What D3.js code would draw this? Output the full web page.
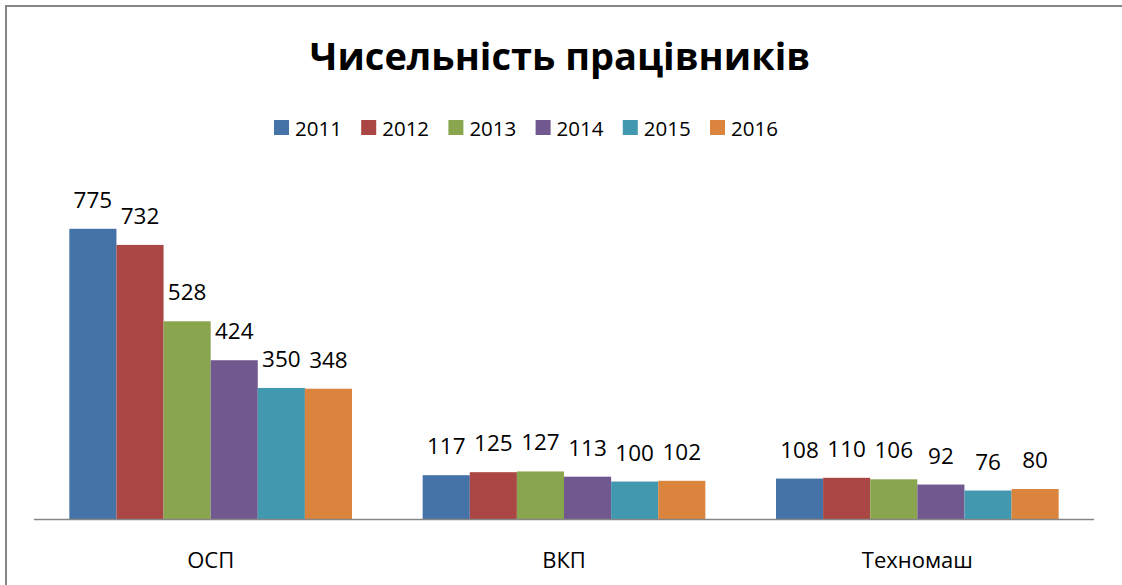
<!DOCTYPE html>
<html>
<head>
<meta charset="utf-8">
<script src="https://cdnjs.cloudflare.com/ajax/libs/d3/7.8.5/d3.min.js"></script>
<style>
  body { margin: 0; background: #fff; }
  svg { display: block; font-family: "Open Sans", "Noto Sans", sans-serif; }
</style>
</head>
<body>
<div id="chart"></div>
<script>
var categories = ["ОСП", "ВКП", "Техномаш"];
var years = ["2011", "2012", "2013", "2014", "2015", "2016"];
var values = [
  [775, 732, 528, 424, 350, 348],
  [117, 125, 127, 113, 100, 102],
  [108, 110, 106, 92, 76, 80]
];
var colors = ["#4572A7", "#AA4643", "#89A54E", "#71588F", "#4198AF", "#DB843D"];

var W = 1122, H = 585;
var margin = { top: 182, right: 28, bottom: 66, left: 34 },
  width = W - margin.left - margin.right,
  height = H - margin.top - margin.bottom;

var svg = d3.select("#chart")
  .append("svg")
  .attr("width", W)
  .attr("height", H);

// chart frame
svg.append("rect")
  .attr("x", 6).attr("y", 6)
  .attr("width", W + 10).attr("height", H + 10)
  .attr("fill", "none")
  .attr("stroke", "#868686")
  .attr("stroke-width", 2);

svg.append("text")
  .attr("x", 560)
  .attr("y", 70)
  .attr("text-anchor", "middle")
  .style("font-size", "38px")
  .style("font-weight", "bold")
  .text("Чисельність працівників");

// legend
var legend = svg.append("g").attr("transform", "translate(274,120)");
var item = legend.selectAll("g").data(years).enter().append("g")
  .attr("transform", function (d, i) { return "translate(" + (i * 87.2) + ",0)"; });
item.append("rect")
  .attr("width", 15).attr("height", 15)
  .attr("fill", function (d, i) { return colors[i]; });
item.append("text")
  .attr("x", 21).attr("y", 16)
  .style("font-size", "20.5px")
  .text(function (d) { return d; });

var g = svg.append("g")
  .attr("transform", "translate(" + margin.left + "," + margin.top + ")");

var x0 = d3.scaleBand()
  .domain(categories)
  .range([0, width]);

var x1 = d3.scaleBand()
  .domain(years)
  .range([0, x0.bandwidth() * 0.8])
  .padding(0);

var y = d3.scaleLinear()
  .domain([0, 900])
  .range([height, 0]);

var groups = g.selectAll(".grp")
  .data(categories)
  .enter()
  .append("g")
  .attr("class", "grp")
  .attr("transform", function (d) {
    return "translate(" + (x0(d) + x0.bandwidth() * 0.1) + ",0)";
  });

groups.selectAll("rect")
  .data(function (d, i) { return values[i].map(function (v, j) { return { year: years[j], v: v, c: colors[j] }; }); })
  .enter()
  .append("rect")
  .attr("x", function (d) { return x1(d.year); })
  .attr("y", function (d) { return y(d.v); })
  .attr("width", x1.bandwidth())
  .attr("height", function (d) { return height - y(d.v); })
  .attr("fill", function (d) { return d.c; });

groups.selectAll("text")
  .data(function (d, i) { return values[i].map(function (v, j) { return { year: years[j], v: v }; }); })
  .enter()
  .append("text")
  .attr("x", function (d) { return x1(d.year) + x1.bandwidth() / 2; })
  .attr("y", function (d) { return y(d.v) - 21; })
  .attr("text-anchor", "middle")
  .style("font-size", "22.5px")
  .text(function (d) { return d.v; });

// x axis line
g.append("line")
  .attr("x1", 0).attr("x2", width)
  .attr("y1", height + 0.5).attr("y2", height + 0.5)
  .attr("stroke", "#868686")
  .attr("stroke-width", 1.5);

g.selectAll(".cat")
  .data(categories)
  .enter()
  .append("text")
  .attr("class", "cat")
  .attr("x", function (d) { return x0(d) + x0.bandwidth() / 2; })
  .attr("y", height + 49)
  .attr("text-anchor", "middle")
  .style("font-size", "22px")
  .text(function (d) { return d; });
</script>
</body>
</html>
